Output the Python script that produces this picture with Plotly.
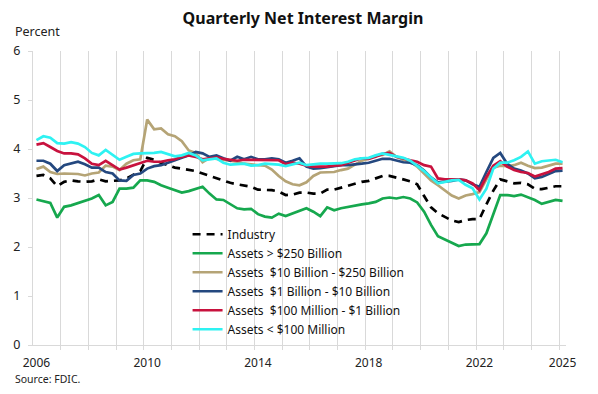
import plotly.graph_objects as go

# Quarters 2006Q1 .. 2025Q1 (77 points)
quarters = [f"{2006 + i // 4}Q{i % 4 + 1}" for i in range(77)]
year_labels = ["2006", "2010", "2014", "2018", "2022", "2025"]
year_label_quarters = ["2006Q1", "2010Q1", "2014Q1", "2018Q1", "2022Q1", "2025Q1"]
year_boundaries = [str(y) for y in range(2007, 2026)]

industry = [3.45, 3.47, 3.40, 3.24, 3.33, 3.36, 3.34, 3.33, 3.34, 3.38, 3.34, 3.35, 3.36, 3.40, 3.47, 3.55,
            3.82, 3.78, 3.72, 3.67, 3.62, 3.60, 3.57, 3.55, 3.50, 3.45, 3.41, 3.36, 3.31, 3.28, 3.26, 3.23,
            3.17, 3.17, 3.16, 3.13, 3.06, 3.07, 3.11, 3.11, 3.09, 3.09, 3.17, 3.17, 3.21, 3.24, 3.28, 3.33,
            3.35, 3.40, 3.45, 3.45, 3.42, 3.38, 3.34, 3.28, 3.04, 2.81, 2.69, 2.61, 2.54, 2.51, 2.55, 2.57,
            2.57, 2.87, 3.15, 3.38, 3.34, 3.30, 3.31, 3.28, 3.19, 3.18, 3.21, 3.24, 3.24]

assets_gt_250b = [2.97, 2.94, 2.90, 2.60, 2.82, 2.85, 2.90, 2.94, 2.99, 3.06, 2.85, 2.92, 3.19, 3.19, 3.21, 3.36,
                  3.36, 3.33, 3.26, 3.21, 3.16, 3.11, 3.14, 3.19, 3.23, 3.09, 2.97, 2.96, 2.87, 2.79, 2.77, 2.78,
                  2.67, 2.62, 2.60, 2.68, 2.63, 2.68, 2.73, 2.79, 2.72, 2.63, 2.81, 2.75, 2.79, 2.82, 2.85, 2.87,
                  2.89, 2.92, 2.99, 3.01, 2.99, 3.02, 2.99, 2.91, 2.72, 2.45, 2.22, 2.15, 2.08, 2.02, 2.05, 2.06,
                  2.06, 2.28, 2.68, 3.06, 3.06, 3.04, 3.07, 3.02, 2.96, 2.88, 2.92, 2.96, 2.94]

assets_10b_250b = [3.59, 3.64, 3.53, 3.49, 3.50, 3.50, 3.49, 3.46, 3.50, 3.52, 3.66, 3.64, 3.57, 3.70, 3.77, 3.79,
                   4.60, 4.40, 4.42, 4.30, 4.26, 4.16, 3.97, 3.92, 3.73, 3.82, 3.80, 3.78, 3.76, 3.74, 3.70, 3.68,
                   3.67, 3.66, 3.58, 3.45, 3.34, 3.28, 3.26, 3.32, 3.45, 3.52, 3.53, 3.53, 3.57, 3.60, 3.68, 3.76,
                   3.80, 3.86, 3.88, 3.95, 3.84, 3.78, 3.74, 3.64, 3.50, 3.36, 3.26, 3.15, 3.05, 2.99, 3.05, 3.08,
                   3.12, 3.38, 3.62, 3.66, 3.65, 3.67, 3.72, 3.66, 3.61, 3.62, 3.66, 3.70, 3.70]

assets_1b_10b = [3.76, 3.76, 3.70, 3.55, 3.67, 3.70, 3.74, 3.69, 3.62, 3.62, 3.53, 3.50, 3.36, 3.35, 3.47, 3.50,
                 3.60, 3.65, 3.67, 3.72, 3.77, 3.81, 3.87, 3.94, 3.91, 3.84, 3.87, 3.81, 3.76, 3.84, 3.79, 3.84,
                 3.79, 3.79, 3.81, 3.79, 3.72, 3.76, 3.81, 3.64, 3.60, 3.61, 3.63, 3.65, 3.67, 3.67, 3.68, 3.70,
                 3.72, 3.76, 3.80, 3.80, 3.76, 3.73, 3.72, 3.67, 3.56, 3.42, 3.32, 3.33, 3.35, 3.38, 3.36, 3.28,
                 3.23, 3.53, 3.82, 3.92, 3.70, 3.60, 3.56, 3.50, 3.40, 3.43, 3.49, 3.55, 3.56]

assets_100m_1b = [4.09, 4.12, 4.04, 3.96, 3.91, 3.91, 3.89, 3.81, 3.70, 3.67, 3.76, 3.67, 3.58, 3.62, 3.67, 3.72,
                  3.76, 3.74, 3.74, 3.77, 3.79, 3.84, 3.87, 3.84, 3.79, 3.81, 3.83, 3.80, 3.78, 3.76, 3.78, 3.78,
                  3.77, 3.77, 3.77, 3.77, 3.69, 3.72, 3.70, 3.66, 3.64, 3.64, 3.64, 3.66, 3.67, 3.72, 3.77, 3.81,
                  3.80, 3.84, 3.90, 3.92, 3.84, 3.80, 3.77, 3.74, 3.67, 3.64, 3.40, 3.38, 3.38, 3.38, 3.36, 3.30,
                  3.16, 3.43, 3.66, 3.75, 3.64, 3.57, 3.53, 3.51, 3.44, 3.48, 3.53, 3.60, 3.61]

assets_lt_100m = [4.18, 4.26, 4.23, 4.12, 4.11, 4.14, 4.11, 4.04, 3.92, 3.87, 3.98, 3.88, 3.78, 3.84, 3.90, 3.91,
                  3.91, 3.92, 3.94, 3.89, 3.85, 3.87, 3.92, 3.87, 3.77, 3.79, 3.81, 3.72, 3.68, 3.69, 3.70, 3.66,
                  3.67, 3.70, 3.69, 3.68, 3.65, 3.68, 3.72, 3.67, 3.69, 3.70, 3.70, 3.70, 3.71, 3.74, 3.79, 3.81,
                  3.82, 3.87, 3.91, 3.88, 3.85, 3.82, 3.76, 3.66, 3.55, 3.42, 3.30, 3.33, 3.36, 3.37, 3.27, 3.20,
                  2.97, 3.19, 3.60, 3.72, 3.72, 3.77, 3.84, 3.95, 3.70, 3.75, 3.76, 3.78, 3.73]

series_names = ["Industry", "Assets &gt; $250 Billion", "Assets\u00a0 $10 Billion - $250 Billion",
                "Assets\u00a0 $1 Billion - $10 Billion", "Assets\u00a0 $100 Million - $1 Billion",
                "Assets &lt; $100 Million"]
series_values = [industry, assets_gt_250b, assets_10b_250b, assets_1b_10b, assets_100m_1b, assets_lt_100m]
series_colors = ["#000000", "#16A84E", "#B5A476", "#24487F", "#C8123E", "#2EF2F2"]
series_dash = ["8px,6px", "solid", "solid", "solid", "solid", "solid"]

FONT = "Noto Sans"
GRID = "#d9d9d9"

idx = {q: i for i, q in enumerate(quarters)}
x_vals = list(range(len(quarters)))

fig = go.Figure()
for name, vals, col, dash in zip(series_names, series_values, series_colors, series_dash):
    fig.add_trace(go.Scatter(x=x_vals, y=vals, mode="lines", name=name,
                             line=dict(color=col, width=2.7, dash=dash)))

boundary_vals = [idx[y + "Q1"] - 0.5 for y in year_boundaries]

# the page body adds an 8px offset, so the figure is sized 8px smaller
fig.update_layout(
    width=590, height=386,
    margin=dict(l=25, r=32, t=43, b=49),
    paper_bgcolor="white", plot_bgcolor="white",
    font=dict(family=FONT, size=12, color="#222222"),
    title=dict(text="<b>Quarterly Net Interest Margin</b>", x=0.5, xanchor="center",
               xref="container", yref="container",
               y=0.973, yanchor="middle", font=dict(family=FONT, size=16, color="#111111")),
    showlegend=True,
    legend=dict(x=0.29, xanchor="left", y=0.426, yanchor="top", bgcolor="rgba(0,0,0,0)",
                font=dict(family=FONT, size=12, color="#111111"), tracegroupgap=0),
    xaxis=dict(range=[-0.5, 76.5], tickmode="array", automargin=False,
               tickvals=[idx[q] for q in year_label_quarters], ticktext=year_labels,
               ticks="", showgrid=False, zeroline=False, ticklabelstandoff=7,
               showline=True, linecolor=GRID, linewidth=1,
               tickfont=dict(family=FONT, size=12, color="#222222"),
               minor=dict(tickmode="array", tickvals=boundary_vals, showgrid=True,
                          gridcolor=GRID, gridwidth=1, ticks="outside", ticklen=4,
                          tickcolor=GRID, tickwidth=1)),
    yaxis=dict(range=[0, 6], tickmode="array", tickvals=[0, 1, 2, 3, 4, 5, 6], automargin=False,
               ticks="outside", ticklen=4, tickcolor=GRID, showgrid=False, zeroline=False,
               ticklabelstandoff=5,
               showline=True, linecolor=GRID, linewidth=1,
               tickfont=dict(family=FONT, size=12.5, color="#222222")),
    annotations=[
        dict(text="Percent", xref="paper", yref="paper", x=-0.0375, y=1.068,
             xanchor="left", yanchor="middle", showarrow=False,
             font=dict(family=FONT, size=12.5, color="#222222")),
        dict(text="Source: FDIC.", xref="paper", yref="paper", x=-0.0375, y=-0.116,
             xanchor="left", yanchor="middle", showarrow=False,
             font=dict(family=FONT, size=10.5, color="#222222")),
    ],
)

fig.write_html("out.html")
